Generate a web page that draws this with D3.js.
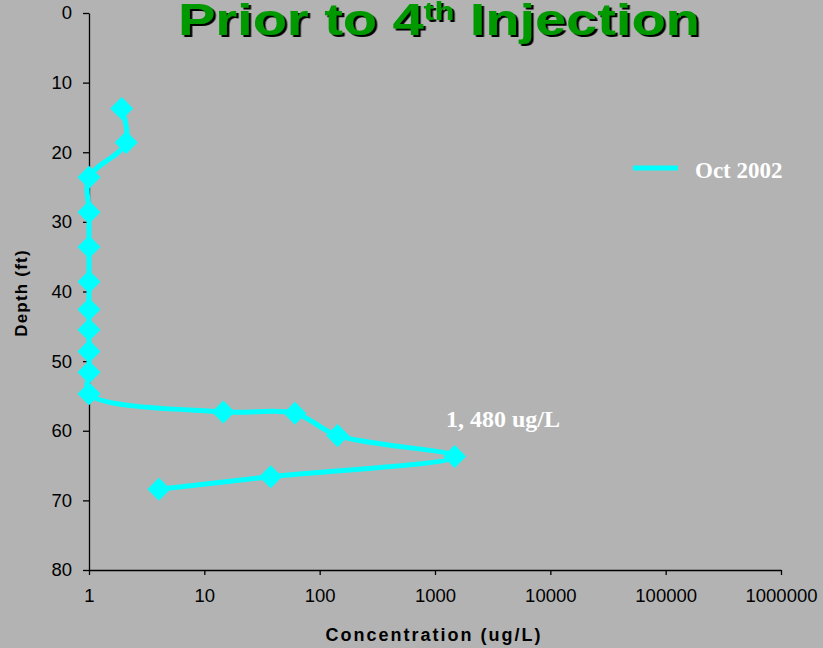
<!DOCTYPE html>
<html>
<head>
<meta charset="utf-8">
<script src="https://cdn.jsdelivr.net/npm/d3@7"></script>
<style>
  html, body { margin: 0; padding: 0; background: #b3b3b3; }
  svg { display: block; }
</style>
</head>
<body>
<svg id="chart" width="823" height="648"></svg>
<script>
// ---- data ----
const depths = [13.7, 18.6, 23.6, 28.6, 33.6, 38.6, 42.6, 45.5, 48.6, 51.6, 54.7, 57.3, 57.5, 60.7, 63.7, 66.6, 68.4];
const concentrations = [1.92, 2.1, 1, 1, 1, 1, 1, 1, 1, 1, 1, 14.6, 61, 143, 1480, 37.6, 4.04];
const seriesName = "Oct 2002";
const xTickValues = [1, 10, 100, 1000, 10000, 100000, 1000000];
const yTickValues = [0, 10, 20, 30, 40, 50, 60, 70, 80];
const titleMain = "Prior to 4";
const titleSup = "th";
const titleEnd = " Injection";
const xAxisTitle = "Concentration (ug/L)";
const yAxisTitle = "Depth (ft)";
const peakLabel = "1, 480 ug/L";

const points = depths.map((d, i) => ({ depth: d, conc: concentrations[i] }));

const svg = d3.select("#chart");
const defs = svg.append("defs");
const f = defs.append("filter").attr("id", "shadow")
  .attr("x", "-5%").attr("y", "-20%").attr("width", "115%").attr("height", "150%");
f.append("feDropShadow").attr("dx", 2).attr("dy", 2).attr("stdDeviation", 0)
  .attr("flood-color", "#000").attr("flood-opacity", 1);

svg.append("rect").attr("width", 823).attr("height", 648).attr("fill", "#b3b3b3");

const x = d3.scaleLog().domain([1, 1000000]).range([89, 781]);
const y = d3.scaleLinear().domain([0, 80]).range([13, 570]);

// ---- axes ----
const yAxis = d3.axisLeft(y).tickValues(yTickValues).tickFormat(d3.format("d"))
  .tickSizeInner(6).tickSizeOuter(0).tickPadding(11);
const gy = svg.append("g").attr("transform", "translate(89,0)").call(yAxis);

const xAxis = d3.axisBottom(x).tickValues(xTickValues).tickFormat(d3.format("d"))
  .tickSizeInner(5).tickSizeOuter(0).tickPadding(14);
const gx = svg.append("g").attr("transform", "translate(0,570)").call(xAxis);

[gx, gy].forEach(g => {
  g.select(".domain").attr("stroke", "#000").attr("stroke-width", 1.3);
  g.selectAll(".tick line").attr("stroke", "#000").attr("stroke-width", 1.3);
  g.selectAll(".tick text")
    .attr("fill", "#000")
    .style("font-family", "'Liberation Sans', Arial, sans-serif")
    .style("font-size", "18.5px");
});

// axis titles
svg.append("text")
  .attr("x", 434).attr("y", 641)
  .attr("text-anchor", "middle")
  .style("font-family", "'Liberation Sans', Arial, sans-serif")
  .style("font-weight", "bold")
  .style("font-size", "18px")
  .style("letter-spacing", "2px")
  .attr("fill", "#000")
  .text(xAxisTitle);

svg.append("text")
  .attr("transform", "translate(27,293) rotate(-90)")
  .attr("text-anchor", "middle")
  .style("font-family", "'Liberation Sans', Arial, sans-serif")
  .style("font-weight", "bold")
  .style("font-size", "17px")
  .style("letter-spacing", "1.2px")
  .attr("fill", "#000")
  .text(yAxisTitle);

// ---- series ----
const line = d3.line()
  .x(d => x(d.conc))
  .y(d => y(d.depth))
  .curve(d3.curveCatmullRom.alpha(0.5));

svg.append("path")
  .datum(points)
  .attr("d", line)
  .attr("fill", "none")
  .attr("stroke", "#00ffff")
  .attr("stroke-width", 5)
  .attr("stroke-linejoin", "round");

const diamond = d3.symbol().type(d3.symbolSquare).size(265);
svg.append("g").selectAll("path")
  .data(points)
  .join("path")
  .attr("d", diamond)
  .attr("transform", d => `translate(${x(d.conc)},${y(d.depth)}) rotate(45)`)
  .attr("fill", "#00ffff");

// ---- legend ----
const legend = svg.append("g");
legend.append("line")
  .attr("x1", 633).attr("x2", 678).attr("y1", 168).attr("y2", 168)
  .attr("stroke", "#00ffff").attr("stroke-width", 5);
legend.append("text")
  .attr("x", 695).attr("y", 178)
  .style("font-family", "'Liberation Serif', 'Times New Roman', serif")
  .style("font-weight", "bold")
  .style("font-size", "23px")
  .attr("fill", "#ffffff")
  .text(seriesName);

// ---- peak annotation ----
svg.append("text")
  .attr("x", 446).attr("y", 427)
  .style("font-family", "'Liberation Serif', 'Times New Roman', serif")
  .style("font-weight", "bold")
  .style("font-size", "24px")
  .attr("fill", "#ffffff")
  .text(peakLabel);

// ---- title (single text with drop shadow) ----
const title = svg.append("text")
  .attr("x", 178).attr("y", 35)
  .style("font-family", "'Liberation Sans', Arial, sans-serif")
  .style("font-weight", "bold")
  .style("font-size", "45px")
  .attr("fill", "#009900")
  .attr("filter", "url(#shadow)");
title.append("tspan").text(titleMain);
title.append("tspan").attr("dy", -15).style("font-size", "26px").text(titleSup);
title.append("tspan").attr("dy", 15).text(titleEnd);
const len = title.node().getComputedTextLength();
const sx = 522 / len;
title.attr("transform", `translate(178,0) scale(${sx},1) translate(-178,0)`);
</script>
</body>
</html>
